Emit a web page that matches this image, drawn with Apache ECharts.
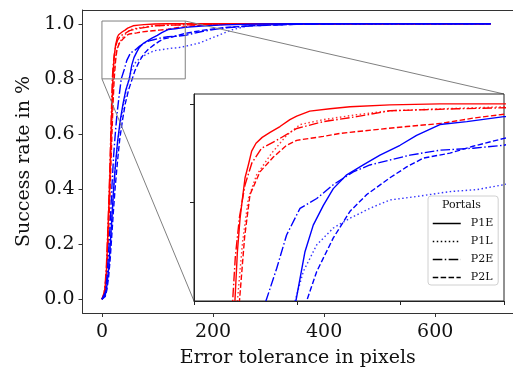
<!DOCTYPE html>
<html>
<head>
<meta charset="utf-8">
<script src="https://cdn.jsdelivr.net/npm/echarts@6/dist/echarts.min.js"></script>
<style>
  html, body { margin: 0; padding: 0; background: #fff; }
  #chart { width: 513px; height: 374px; }
</style>
</head>
<body>
<div id="chart"></div>
<script>
// portal legend entries
const portals = ['P1E', 'P1L', 'P2E', 'P2L'];

// red curves  [error px, success]
const redP1E = [[0,0],[2,0.004],[4,0.02],[6,0.05],[8,0.1],[9,0.15],[11,0.26],[13,0.37],[14.5,0.46],[16,0.57],[17.5,0.67],[19,0.76],[19.8,0.8],[21,0.85],[22.3,0.884],[23.5,0.905],[24.7,0.925],[26.3,0.938],[27.9,0.952],[30,0.96],[33,0.966],[36.8,0.971],[41.6,0.977],[46.4,0.984],[49.7,0.9875],[56,0.9926],[65.8,0.995],[75.5,0.997],[94.8,0.999],[119,1.0],[150,1.0],[250,1.0],[700,1.0]];
const redP1L = [[0,0],[2,0.003],[4,0.015],[6,0.04],[8,0.09],[10,0.17],[12,0.28],[14,0.4],[16,0.53],[18,0.65],[19.5,0.73],[21,0.8],[23.5,0.86],[26.3,0.904],[30.3,0.928],[37.6,0.95],[44.8,0.968],[51.3,0.979],[62.6,0.984],[78.7,0.989],[94.8,0.993],[120,0.995],[150,0.997],[200,0.999],[260,1.0],[700,1.0]];
const redP2E = [[0,0],[2,0.005],[4,0.025],[6,0.06],[8,0.12],[10,0.22],[12,0.33],[14,0.46],[15.5,0.57],[17,0.68],[18.7,0.8],[20,0.845],[22,0.885],[24.7,0.918],[28,0.94],[32.7,0.955],[40,0.963],[49.7,0.975],[62.6,0.982],[78.7,0.987],[94.8,0.993],[111,0.994],[127,0.995],[150,0.996],[200,0.998],[280,1.0],[700,1.0]];
const redP2L = [[0,0],[2,0.003],[4,0.014],[6,0.035],[8,0.08],[10,0.15],[12,0.25],[14,0.36],[16,0.48],[18,0.6],[20,0.71],[22,0.8],[24.5,0.865],[27.1,0.908],[31.9,0.931],[38.4,0.946],[44.8,0.958],[49.7,0.963],[62.6,0.967],[70.6,0.97],[86.7,0.9736],[102.9,0.977],[119,0.98],[135,0.9855],[150,0.9895],[180,0.995],[230,0.998],[300,1.0],[700,1.0]];

// blue curves
const blueP1E = [[0,0],[3,0.003],[6,0.015],[9,0.05],[12,0.11],[15,0.2],[18,0.3],[21,0.4],[24,0.48],[28,0.57],[33,0.65],[38,0.71],[43,0.76],[49.3,0.8],[53.7,0.85],[57.7,0.877],[62.6,0.897],[67.4,0.914],[73.9,0.928],[81.9,0.938],[90,0.948],[99.7,0.958],[107.7,0.968],[119,0.979],[132,0.982],[150,0.987],[180,0.992],[220,0.996],[280,0.999],[350,1.0],[700,1.0]];
const blueP1L = [[0,0],[3,0.003],[6,0.015],[9,0.05],[12,0.11],[15,0.2],[18,0.3],[21,0.4],[24,0.48],[29,0.58],[34,0.65],[40,0.72],[45,0.77],[48.9,0.8],[52.9,0.83],[59.4,0.857],[67.4,0.874],[75.5,0.884],[85.1,0.894],[94.8,0.9025],[107.7,0.906],[123.8,0.911],[136.8,0.913],[150,0.918],[175,0.93],[205,0.954],[234,0.978],[258,0.99],[300,0.996],[380,1.0],[700,1.0]];
const blueP2E = [[0,0],[3,0.004],[6,0.025],[9,0.08],[12,0.17],[15,0.28],[18,0.41],[21,0.52],[24,0.6],[27,0.67],[31,0.74],[34.8,0.8],[40,0.833],[44.8,0.867],[51.3,0.894],[59.4,0.904],[67.4,0.918],[77.1,0.931],[85.1,0.938],[94.8,0.943],[104.5,0.948],[119,0.953],[135,0.955],[150,0.958],[180,0.972],[220,0.985],[270,0.993],[350,0.998],[450,1.0],[700,1.0]];
const blueP2L = [[0,0],[3,0.002],[6,0.01],[9,0.035],[12,0.08],[15,0.15],[18,0.24],[21,0.33],[24,0.41],[28,0.5],[32,0.58],[37,0.65],[42,0.71],[48,0.76],[54.5,0.8],[59.4,0.83],[67.4,0.864],[75.5,0.891],[83.6,0.908],[94.8,0.925],[102.9,0.936],[111,0.945],[123.8,0.95],[135,0.957],[150,0.965],[180,0.976],[220,0.986],[270,0.993],[350,0.998],[450,1.0],[700,1.0]];

// zoomed region and tick labels
const insetX = [0, 150];
const insetY = [0.8, 1.01];
const xTicks = [0, 200, 400, 600];
const yTicks = [0, 0.2, 0.4, 0.6, 0.8, 1.0];
const insetXTicks = [0, 50, 100, 150];
const insetYTicks = [0.9, 1.0];

const FONT = 'DejaVu Serif';
const dashes = {
  P1E: 'solid',
  P1L: [1.5, 2.5],
  P2E: [9.6, 2.4, 1.5, 2.4],
  P2L: [5.5, 2.4]
};
const curves = [
  ['P1E', '#ff0000', redP1E], ['P1L', '#ff0000', redP1L],
  ['P2E', '#ff0000', redP2E], ['P2L', '#ff0000', redP2L],
  ['P1E', '#0000ff', blueP1E], ['P1L', '#0000ff', blueP1L],
  ['P2E', '#0000ff', blueP2E], ['P2L', '#0000ff', blueP2L]
];

const chart = echarts.init(document.getElementById('chart'));

const series = [];
[0, 1].forEach(g => {
  curves.forEach(([p, color, data]) => {
    series.push({
      type: 'line',
      name: p + '-' + color + '-' + g,
      xAxisIndex: g,
      yAxisIndex: g,
      data: data,
      showSymbol: false,
      symbol: 'none',
      silent: true,
      z: g === 0 ? 1 : 3,
      lineStyle: { color: color, width: 1.4, type: dashes[p], opacity: p === 'P1L' ? 0.8 : 1 }
    });
  });
});

// zoom rectangle in the main axes
series.push({
  type: 'line',
  name: 'box',
  xAxisIndex: 0,
  yAxisIndex: 0,
  data: [[insetX[0], insetY[0]], [insetX[1], insetY[0]], [insetX[1], insetY[1]], [insetX[0], insetY[1]], [insetX[0], insetY[0]]],
  symbol: 'none',
  silent: true,
  z: 1.5,
  lineStyle: { color: '#808080', width: 1, type: 'solid' }
});

// black dummies for the legend
portals.forEach(p => {
  series.push({
    type: 'line',
    name: p,
    xAxisIndex: 1,
    yAxisIndex: 1,
    data: [],
    symbol: 'none',
    itemStyle: { color: '#000' },
    lineStyle: { color: '#000', width: 1.5, type: dashes[p] }
  });
});

const tickText = { fontFamily: FONT, fontSize: 19, color: '#111' };

chart.setOption({
  animation: false,
  backgroundColor: '#fff',
  grid: [
    { left: 82.5, top: 10, width: 434, height: 303, show: false },
    { left: 194, top: 94, width: 310, height: 207, show: true, borderColor: '#222', borderWidth: 1, backgroundColor: '#fff', z: 2 }
  ],
  xAxis: [
    {
      type: 'value', gridIndex: 0, min: -35, max: 740,
      name: 'Error tolerance in pixels', nameLocation: 'middle', nameGap: 36,
      nameTextStyle: tickText,
      splitLine: { show: false },
      axisLine: { show: true, onZero: false, lineStyle: { color: '#333', width: 1 } },
      axisTick: { show: true, inside: false, length: 4, customValues: xTicks, lineStyle: { color: '#333' } },
      axisLabel: Object.assign({ margin: 10, customValues: xTicks }, tickText)
    },
    {
      type: 'value', gridIndex: 1, min: insetX[0], max: insetX[1], z: 4,
      splitLine: { show: false },
      axisLine: { show: true, onZero: false, lineStyle: { color: '#222', width: 1 } },
      axisTick: { show: true, inside: false, length: 4, customValues: insetXTicks, lineStyle: { color: '#222' } },
      axisLabel: { show: false }
    },
    {
      // top spine of the main axes
      type: 'value', gridIndex: 0, position: 'top', min: -35, max: 740,
      splitLine: { show: false },
      axisLine: { show: true, onZero: false, lineStyle: { color: '#333', width: 1 } },
      axisTick: { show: false },
      axisLabel: { show: false }
    }
  ],
  yAxis: [
    {
      type: 'value', gridIndex: 0, min: -0.05, max: 1.05,
      name: 'Success rate in %', nameLocation: 'middle', nameGap: 45,
      nameTextStyle: tickText,
      splitLine: { show: false },
      axisLine: { show: true, onZero: false, lineStyle: { color: '#333', width: 1 } },
      axisTick: { show: true, inside: false, length: 4, customValues: yTicks, lineStyle: { color: '#333' } },
      axisLabel: Object.assign({ margin: 8, customValues: yTicks, formatter: v => v.toFixed(1) }, tickText)
    },
    {
      type: 'value', gridIndex: 1, min: insetY[0], max: insetY[1], z: 4,
      splitLine: { show: false },
      axisLine: { show: true, onZero: false, lineStyle: { color: '#222', width: 1 } },
      axisTick: { show: true, inside: false, length: 4, customValues: insetYTicks, lineStyle: { color: '#222' } },
      axisLabel: { show: false }
    }
  ],
  legend: {
    data: portals,
    orient: 'vertical',
    left: 428,
    top: 196,
    padding: [22, 5, 2, 4],
    itemWidth: 28,
    itemHeight: 12,
    itemGap: 7,
    backgroundColor: '#fff',
    borderColor: '#d0d0d0',
    borderWidth: 1,
    borderRadius: 3,
    selectedMode: false,
    z: 5,
    itemStyle: { opacity: 0, borderWidth: 0 },
    lineStyle: { color: '#000', width: 1.5 },
    textStyle: { fontFamily: FONT, fontSize: 11, color: '#111', padding: [0, 0, 0, 5] }
  },
  series: series
});

// connector lines between the zoom box and the inset corners
const cornerA = [insetX[1], insetY[1]];
const cornerB = [insetX[0], insetY[0]];
const a0 = chart.convertToPixel({ gridIndex: 0 }, cornerA);
const a1 = chart.convertToPixel({ gridIndex: 1 }, cornerA);
const b0 = chart.convertToPixel({ gridIndex: 0 }, cornerB);
const b1 = chart.convertToPixel({ gridIndex: 1 }, cornerB);

chart.setOption({
  graphic: [
    { type: 'line', shape: { x1: a0[0], y1: a0[1], x2: a1[0], y2: a1[1] }, style: { stroke: '#808080', lineWidth: 1 }, z: 1.5, silent: true },
    { type: 'line', shape: { x1: b0[0], y1: b0[1], x2: b1[0], y2: b1[1] }, style: { stroke: '#808080', lineWidth: 1 }, z: 1.5, silent: true },
    { type: 'text', left: 442, top: 200, z: 6, style: { text: 'Portals', font: '11px "DejaVu Serif"', fill: '#111' } }
  ]
});
</script>
</body>
</html>
